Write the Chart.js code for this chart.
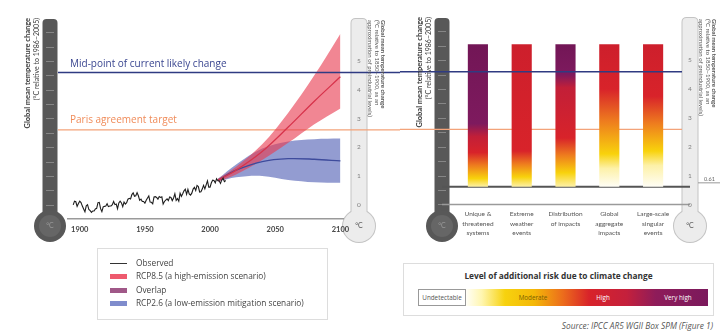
<!DOCTYPE html>
<html>
<head>
<meta charset="utf-8">
<script src="https://cdn.jsdelivr.net/npm/chart.js@4.4.1/dist/chart.umd.min.js"></script>
<style>
    html, body { margin: 0; padding: 0; background: #fff; }
    #wrap { position: relative; width: 724px; height: 336px; overflow: hidden; font-family: "Open Sans", "Liberation Sans", sans-serif; color: #444; }
    canvas { position: absolute; top: 0; }
    .box { position: absolute; border: 1px solid #ddd; box-sizing: border-box; }
    #legendLeft { left: 97px; top: 248px; width: 231px; height: 72px; }
    .item { position: absolute; left: 12px; height: 12px; font-size: 8.3px; line-height: 12px; white-space: nowrap; }
    .item span { position: absolute; left: 0; top: 4px; width: 17px; height: 5px; }
    .item b { position: absolute; left: 26px; top: 0; font-weight: normal; }
    #legendRight { left: 403px; top: 263px; width: 311px; height: 53px; }
    #riskTitle { position: absolute; left: 0; right: 0; top: 6px; text-align: center; font-size: 8.3px; font-weight: bold; color: #333; }
    #riskBar { position: absolute; left: 14px; top: 25px; width: 290px; height: 17px; }
    #riskBar div { position: absolute; top: 0; height: 17px; line-height: 17px; font-size: 6.3px; text-align: center; }
    #source { position: absolute; right: 11px; top: 320px; font-size: 8.3px; font-style: italic; color: #555; }
</style>
</head>
<body>
<div id="wrap">
    <canvas id="tempChart" width="400" height="250" style="left:0"></canvas>
    <canvas id="riskChart" width="324" height="250" style="left:400px"></canvas>
    <div class="box" id="legendLeft"></div>
    <div class="box" id="legendRight">
        <div id="riskTitle">Level of additional risk due to climate change</div>
        <div id="riskBar"></div>
    </div>
    <div id="source">Source: IPCC AR5 WGII Box SPM (Figure 1)</div>
</div>
<script>
    // temperatures in °C relative to 1850-1900
    var obsStartYear = 1895;
    var obsTemps = [
        -0.01, 0.12, 0.10, -0.06, 0.04, 0.12, 0.07, -0.05, -0.15, -0.25,
        -0.04, 0.00, -0.17, -0.21, -0.27, -0.22, -0.22, -0.15, -0.13, 0.07,
        0.08, -0.14, -0.24, -0.08, -0.06, -0.05, 0.03, -0.07, -0.05, -0.05,
        0.00, 0.11, 0.00, 0.02, -0.14, 0.06, 0.12, 0.06, -0.07, 0.09,
        0.02, 0.07, 0.19, 0.22, 0.20, 0.35, 0.41, 0.29, 0.31, 0.42,
        0.31, 0.15, 0.19, 0.11, 0.11, 0.05, 0.15, 0.23, 0.30, 0.09,
        0.08, 0.03, 0.27, 0.28, 0.25, 0.19, 0.28, 0.25, 0.27, 0.02,
        0.11, 0.16, 0.20, 0.14, 0.27, 0.25, 0.14, 0.23, 0.38, 0.15,
        0.21, 0.12, 0.40, 0.29, 0.38, 0.48, 0.54, 0.36, 0.53, 0.37,
        0.33, 0.40, 0.54, 0.60, 0.49, 0.67, 0.63, 0.44, 0.45, 0.54,
        0.67, 0.55, 0.69, 0.83, 0.61, 0.61, 0.76, 0.85, 0.84, 0.76,
        0.90, 0.83, 0.83, 0.74, 0.86, 0.92, 0.80, 0.84
    ];

    var projYears = [2006, 2020, 2040, 2060, 2080, 2100];
    var rcp85Mean = [0.85, 1.20, 1.85, 2.70, 3.60, 4.45];
    var rcp85High = [0.90, 1.32, 2.10, 3.20, 4.50, 5.95];
    var rcp85Low = [0.80, 1.05, 1.55, 2.15, 2.80, 3.35];
    var rcp26Mean = [0.85, 1.20, 1.50, 1.60, 1.58, 1.52];
    var rcp26High = [0.90, 1.40, 1.95, 2.20, 2.28, 2.30];
    var rcp26Low = [0.80, 0.95, 1.00, 0.86, 0.78, 0.76];

    var midpointChange = 4.6;
    var parisTarget = 2.6;
    var recentLevel = 0.61;

    var yearTicks = [1900, 1950, 2000, 2050, 2100];
    var tempTicks = [0, 1, 2, 3, 4, 5];

    var riskCategories = [
        ['Unique &', 'threatened', 'systems'],
        ['Extreme', 'weather', 'events'],
        ['Distribution', 'of impacts'],
        ['Global', 'aggregate', 'impacts'],
        ['Large-scale', 'singular', 'events']
    ];
    var barBottom = [0.61, 0.61, 0.61, 0.61, 0.61];
    var barTop = [5.55, 5.55, 5.55, 5.55, 5.55];
    // temperature where each risk colour is fully reached
    var yellowAt = [0.90, 0.95, 1.10, 1.75, 1.85];
    var redAt = [1.80, 1.85, 2.30, 4.00, 3.75];
    var purpleAt = [2.80, null, 4.50, null, null];

    var riskLevels = ['Undetectable', 'Moderate', 'High', 'Very high'];
    var riskColors = ['#ffffff', '#f7d20e', '#d8232a', '#7b195c'];

    var legendLabels = ['Observed', 'RCP8.5 (a high-emission scenario)', 'Overlap', 'RCP2.6 (a low-emission mitigation scenario)'];
    var legendColors = ['#333333', '#ee5a6e', '#a05888', '#7f8ccc'];

    var navy = '#2f3b82';
    var orange = '#f3a37a';

    function obsPoints() {
        return obsTemps.map(function (t, i) { return { x: obsStartYear + i, y: t }; });
    }

    function projPoints(values) {
        return values.map(function (t, i) { return { x: projYears[i], y: t }; });
    }

    function drawThermometer(ctx, cx, top, bulbY, light) {
        var w = 15, r = 16;
        ctx.save();
        if (light) {
            ctx.strokeStyle = '#c4c4c4';
            ctx.lineWidth = 2;
            ctx.beginPath();
            ctx.roundRect(cx - w / 2, top, w, bulbY - top, 4);
            ctx.stroke();
            ctx.beginPath();
            ctx.arc(cx, bulbY, r, 0, Math.PI * 2);
            ctx.stroke();
        }
        ctx.fillStyle = light ? '#ececec' : '#585858';
        ctx.beginPath();
        ctx.roundRect(cx - w / 2, top, w, bulbY - top, 4);
        ctx.fill();
        ctx.beginPath();
        ctx.arc(cx, bulbY, r, 0, Math.PI * 2);
        ctx.fill();
        if (!light) {
            ctx.fillStyle = '#666';
            ctx.beginPath();
            ctx.arc(cx, bulbY, r - 5, 0, Math.PI * 2);
            ctx.fill();
        }
        ctx.fillStyle = light ? '#555' : '#9a9a9a';
        ctx.font = '7px Lato';
        ctx.textAlign = 'center';
        ctx.textBaseline = 'middle';
        ctx.fillText('°C', cx, bulbY);
        ctx.restore();
    }

    function drawDarkTicks(ctx, cx, scale) {
        ctx.save();
        ctx.strokeStyle = 'rgba(255,255,255,0.28)';
        ctx.lineWidth = 1;
        for (var v = 0; v <= 6; v += 0.5) {
            var y = Math.round(scale.getPixelForValue(v)) + 0.5;
            ctx.beginPath();
            ctx.moveTo(cx - 4, y);
            ctx.lineTo(cx + 4, y);
            ctx.stroke();
        }
        ctx.restore();
    }

    function hLine(ctx, y, x1, x2, color, width) {
        ctx.save();
        ctx.strokeStyle = color;
        ctx.lineWidth = width;
        ctx.beginPath();
        ctx.moveTo(x1, y);
        ctx.lineTo(x2, y);
        ctx.stroke();
        ctx.restore();
    }

    function rotatedLines(ctx, lines, xs, y, angle, fonts, color) {
        ctx.save();
        ctx.fillStyle = color;
        ctx.textBaseline = 'middle';
        lines.forEach(function (line, i) {
            ctx.save();
            ctx.translate(xs[i], y);
            ctx.rotate(angle);
            ctx.font = fonts[i];
            ctx.textAlign = angle < 0 ? 'right' : 'left';
            ctx.fillText(line, 0, 0);
            ctx.restore();
        });
        ctx.restore();
    }

    var leftTitle = ['Global mean temperature change', '(°C relative to 1986–2005)'];
    var rightTitle = ['Global mean temperature change', '(°C relative to 1850–1900, as an', 'approximation of preindustrial levels)'];

    var decorPlugin = {
        id: 'decor',
        beforeDraw: function (chart, args, opts) {
            var ctx = chart.ctx, area = chart.chartArea, y = chart.scales.y;
            drawThermometer(ctx, area.left + opts.darkX, area.top + 1, 226, false);
            drawDarkTicks(ctx, area.left + opts.darkX, y);
            drawThermometer(ctx, area.right + opts.lightX, area.top + 1, 226, true);
            var x0 = opts.lineStart;
            var x1 = opts.lineEnd === null ? chart.width : area.right + opts.lineEnd;
            hLine(ctx, y.getPixelForValue(parisTarget), x0, x1, orange, 1.2);
            if (opts.risk) {
                var xa = area.left + opts.darkX, xb = area.right + opts.lightX;
                hLine(ctx, y.getPixelForValue(0), xa, xb, '#9a9a9a', 1.5);
                hLine(ctx, y.getPixelForValue(recentLevel), xa, xb, '#555', 2);
            }
        },
        afterDatasetsDraw: function (chart, args, opts) {
            var ctx = chart.ctx, area = chart.chartArea, y = chart.scales.y;
            var x0 = opts.lineStart;
            var x1 = opts.lineEnd === null ? chart.width : area.right + opts.lineEnd;
            hLine(ctx, y.getPixelForValue(midpointChange), x0, x1, navy, 1.6);
            if (opts.labels) {
                ctx.save();
                ctx.font = '10px "Open Sans"';
                ctx.textBaseline = 'alphabetic';
                ctx.fillStyle = '#3a4690';
                ctx.fillText('Mid-point of current likely change', area.left + 2, y.getPixelForValue(midpointChange) - 5);
                ctx.fillStyle = '#f08c5a';
                ctx.fillText('Paris agreement target', area.left + 2, y.getPixelForValue(parisTarget) - 7);
                ctx.restore();
            }
        },
        afterDraw: function (chart, args, opts) {
            var ctx = chart.ctx, area = chart.chartArea;
            var lx = area.left + opts.darkX - 22;
            rotatedLines(ctx, leftTitle, [lx, lx + 8.5], area.top, -Math.PI / 2,
                ['bold 7.5px Lato', '7px Lato'], '#3a3a3a');
            var rx = area.right + opts.lightX + 24;
            rotatedLines(ctx, rightTitle, [rx, rx - 6.5, rx - 13], area.top + 2, Math.PI / 2,
                ['bold 6px Lato', '6px Lato', '6px Lato'], '#555');
            if (opts.risk) {
                var yr = chart.scales.y.getPixelForValue(recentLevel) - 4;
                hLine(ctx, yr, area.right + opts.lightX + 8, chart.width - 4, '#999', 1);
                ctx.save();
                ctx.font = '5.5px Lato';
                ctx.fillStyle = '#666';
                ctx.textBaseline = 'bottom';
                ctx.fillText('0.61', area.right + opts.lightX + 14, yr - 0.5);
                ctx.restore();
            }
        }
    };

    function fixedWidth(w) { return function (axis) { axis.width = w; }; }
    function fixedHeight(h) { return function (axis) { axis.height = h; }; }

    var tempAxis = function (min, padding) {
        return {
            position: 'right',
            min: min,
            max: 6.5,
            afterBuildTicks: function (axis) { axis.ticks = tempTicks.map(function (v) { return { value: v }; }); },
            afterFit: fixedWidth(30),
            grid: { display: false, drawTicks: false },
            border: { display: false },
            ticks: { padding: padding, color: '#808080', font: { size: 6.5, family: 'Lato' } }
        };
    };

    new Chart(document.getElementById('tempChart'), {
        type: 'line',
        data: {
            datasets: [
                { label: legendLabels[0], data: obsPoints(), borderColor: '#1e1e1e', borderWidth: 1.1, pointRadius: 0, tension: 0 },
                { data: projPoints(rcp85Mean), borderColor: '#d7334b', borderWidth: 1.3, pointRadius: 0, tension: 0.35 },
                { data: projPoints(rcp26Mean), borderColor: '#3e4b9c', borderWidth: 1.3, pointRadius: 0, tension: 0.35 },
                { label: legendLabels[1], data: projPoints(rcp85High), borderWidth: 0, pointRadius: 0, tension: 0.35, fill: '+1', backgroundColor: 'rgba(232,60,80,0.62)' },
                { data: projPoints(rcp85Low), borderWidth: 0, pointRadius: 0, tension: 0.35 },
                { label: legendLabels[3], data: projPoints(rcp26High), borderWidth: 0, pointRadius: 0, tension: 0.35, fill: '+1', backgroundColor: 'rgba(80,95,180,0.62)' },
                { data: projPoints(rcp26Low), borderWidth: 0, pointRadius: 0, tension: 0.35 }
            ]
        },
        options: {
            responsive: false,
            animation: false,
            layout: { padding: { left: 68, right: 27, top: 15, bottom: 0 } },
            scales: {
                x: {
                    type: 'linear',
                    min: 1891,
                    max: 2102,
                    afterBuildTicks: function (axis) { axis.ticks = yearTicks.map(function (v) { return { value: v }; }); },
                    afterFit: fixedHeight(31),
                    grid: { display: false, drawTicks: false },
                    border: { color: '#9a9a9a', width: 1.5 },
                    ticks: { padding: 6, color: '#444', font: { size: 7.5, weight: 'bold', family: 'Lato' }, callback: function (v) { return String(v); } }
                },
                y: tempAxis(-0.5, 14)
            },
            plugins: {
                legend: { display: false },
                tooltip: { enabled: false },
                decor: { darkX: -18, lightX: 16, lineStart: 58, lineEnd: null, labels: true, risk: false }
            }
        },
        plugins: [decorPlugin]
    });

    function barGradient(context) {
        var chart = context.chart;
        if (!chart.chartArea) {
            return null;
        }
        var i = context.dataIndex;
        var y = chart.scales.y;
        var lo = barBottom[i], hi = barTop[i];
        var g = chart.ctx.createLinearGradient(0, y.getPixelForValue(lo), 0, y.getPixelForValue(hi));
        var last = 0;
        function stop(t, color) {
            var f = Math.min(1, Math.max(0, (t - lo) / (hi - lo)));
            if (f < last) f = last;
            last = f;
            g.addColorStop(f, color);
        }
        stop(lo, '#fffef6');
        stop(yellowAt[i] - 0.5, '#fdf1a8');
        stop(yellowAt[i], '#f8d20c');
        stop((yellowAt[i] + redAt[i]) / 2, '#ee7d1e');
        stop(redAt[i], '#d8232a');
        if (purpleAt[i] !== null) {
            stop(purpleAt[i] - 0.45, '#c21f38');
            stop(purpleAt[i], '#7e1a5e');
            stop(hi, '#721656');
        } else {
            stop(hi, '#cd1f2c');
        }
        return g;
    }

    new Chart(document.getElementById('riskChart'), {
        type: 'bar',
        data: {
            labels: riskCategories,
            datasets: [{
                data: barBottom.map(function (b, i) { return [b, barTop[i]]; }),
                backgroundColor: barGradient,
                borderWidth: 0,
                barPercentage: 0.46,
                categoryPercentage: 1
            }]
        },
        options: {
            responsive: false,
            animation: false,
            layout: { padding: { left: 56, right: 19, top: 15, bottom: 0 } },
            scales: {
                x: {
                    afterFit: fixedHeight(45.57),
                    grid: { display: false, drawTicks: false },
                    border: { display: false },
                    ticks: { padding: 5, color: '#555', maxRotation: 0, autoSkip: false, font: { size: 6.5, family: 'Lato', lineHeight: 1.45 } }
                },
                y: tempAxis(0, 13)
            },
            plugins: {
                legend: { display: false },
                tooltip: { enabled: false },
                decor: { darkX: -14, lightX: 15, lineStart: 0, lineEnd: 7, labels: false, risk: true }
            }
        },
        plugins: [decorPlugin]
    });

    // legends
    var legendLeft = document.getElementById('legendLeft');
    legendLabels.forEach(function (label, i) {
        var item = document.createElement('div');
        item.className = 'item';
        item.style.top = (8 + i * 13.3) + 'px';
        var sw = document.createElement('span');
        sw.style.background = legendColors[i];
        if (i === 0) {
            sw.style.height = '1px';
            sw.style.top = '6px';
        }
        var txt = document.createElement('b');
        txt.textContent = label;
        item.appendChild(sw);
        item.appendChild(txt);
        legendLeft.appendChild(item);
    });

    var riskBar = document.getElementById('riskBar');
    riskBar.style.background = 'linear-gradient(to right, #fff 0%, #fff 16%, #fff6b0 22%, ' + riskColors[1] + ' 30%, #f4b808 40%, #ec6c1c 50%, ' + riskColors[2] + ' 59%, #c4203c 72%, #8e1c5a 82%, ' + riskColors[3] + ' 100%)';
    var labelPos = [[0, 48], [80, 70], [155, 60], [230, 60]];
    riskLevels.forEach(function (level, i) {
        var d = document.createElement('div');
        d.textContent = level;
        d.style.left = labelPos[i][0] + 'px';
        d.style.width = labelPos[i][1] + 'px';
        d.style.color = i === 0 ? '#555' : (i === 1 ? '#7a5f00' : '#fff');
        if (i === 0) {
            d.style.border = '1px solid #999';
            d.style.boxSizing = 'border-box';
            d.style.background = '#fff';
            d.style.lineHeight = '15px';
        }
        riskBar.appendChild(d);
    });
</script>
</body>
</html>
